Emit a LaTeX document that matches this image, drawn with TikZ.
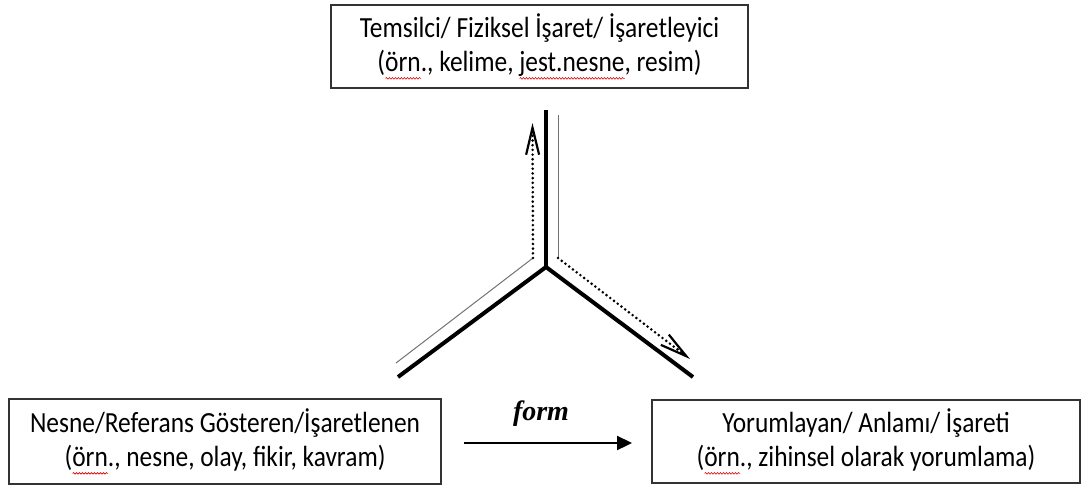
\documentclass[tikz,border=0pt]{standalone}
\usepackage{fontspec}
\setmainfont{Carlito}[FakeStretch=0.87]
\newfontfamily\formfont{Liberation Serif}
\usetikzlibrary{arrows.meta,decorations.pathmorphing}
\newsavebox\spbox
\newcommand\spellmark[1]{\sbox\spbox{#1}\edef\spw{\the\wd\spbox}\rlap{\tikz[baseline=0pt]\draw[draw=red!85!black,line width=0.6pt,decorate,decoration={snake,amplitude=0.8pt,segment length=3pt}] (0pt,-6.5pt) -- (\spw,-6.5pt);}\usebox\spbox}
\tikzset{
  textbox/.style={draw=black!80,line width=1.5pt,inner sep=0pt,align=center,
    font=\fontsize{29.2}{34.5}\selectfont},
  thick arm/.style={line width=4pt,black},
  thin guide/.style={line width=1pt,black!55},
  dotguide/.style={line width=2.9pt,black,line cap=round,dash pattern=on 0pt off 4.7pt},
  barb/.style={-{Straight Barb[length=27pt,width=13pt,line width=2.2pt]}},
  formarrow/.style={line width=2.3pt,-{Triangle[length=15pt,width=14pt]}},
}
\begin{document}
\begin{tikzpicture}[x=1pt,y=-1pt]
\useasboundingbox (0,0) rectangle (1082,485);
% boxes
\node[textbox,minimum width=417pt,minimum height=83pt] (rep) at (539.5,46.5)
  {Temsilci/ Fiziksel İşaret/ İşaretleyici\\(\spellmark{örn}., kelime, \spellmark{jest.nesne}, resim)};
\node[textbox,minimum width=432pt,minimum height=85pt] (obj) at (225,441.5)
  {Nesne/Referans Gösteren/İşaretlenen\\(\spellmark{örn}., nesne, olay, fikir, kavram)};
\node[textbox,minimum width=428pt,minimum height=83pt] (int) at (866,441.5)
  {Yorumlayan/ Anlamı/ İşareti\\(\spellmark{örn}., zihinsel olarak yorumlama)};
% Y shape
\coordinate (yc) at (546,267);
\coordinate (yt) at (546,110);
\coordinate (yl) at (398,377);
\coordinate (yr) at (693,377);
\draw[thick arm] (yc) -- (yt);
\draw[thick arm,line join=miter] (yl) -- (yc) -- (yr);
% left guide and upward dotted arrow
\coordinate (lg) at (396,363);
\coordinate (lc) at (533,258);
\coordinate (lt) at (532.5,123);
\draw[thin guide] (lg) -- (lc);
\draw[dotguide,barb] (lc) -- (lt);
% right guide and downward dotted arrow
\coordinate (rg) at (558,115);
\coordinate (rc) at (558,258);
\coordinate (rt) at (690,359);
\draw[thin guide] (rg) -- (rc);
\draw[dotguide,barb] (rc) -- (rt);
% form arrow
\coordinate (fs) at (464,443);
\coordinate (fe) at (632,443);
\draw[formarrow] (fs) -- (fe);
\node[anchor=base,inner sep=0pt,font=\formfont\bfseries\itshape\fontsize{28}{30}\selectfont] (form) at (541,420) {form};
\end{tikzpicture}
\end{document}
